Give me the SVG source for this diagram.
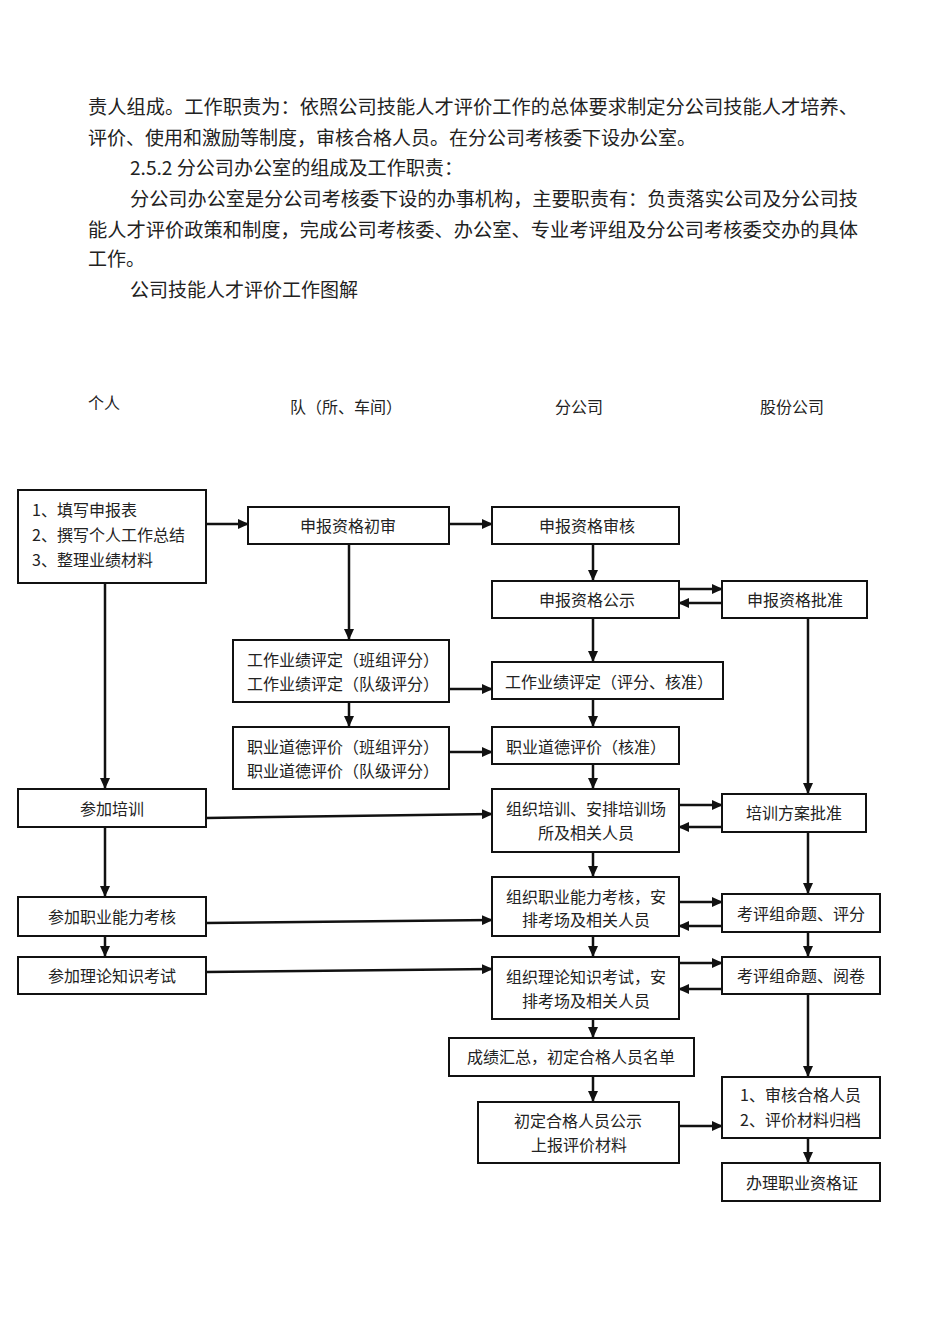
<svg xmlns="http://www.w3.org/2000/svg" width="950" height="1344" viewBox="0 0 950 1344">
<style>
.body{font-family:"Noto Sans CJK SC","Noto Sans",sans-serif;font-size:19px;fill:#222;}
.hd{font-family:"Noto Sans CJK SC","Noto Sans",sans-serif;font-size:16px;fill:#222;}
.t{font-family:"Noto Sans CJK SC","Noto Sans",sans-serif;font-size:16px;fill:#222;}
.c{text-anchor:middle;}
.box{fill:#fff;stroke:#111;stroke-width:2;}
.la{stroke:#111;stroke-width:2.5;fill:none;marker-end:url(#ah);}
</style>
<defs>
<marker id="ah" markerUnits="userSpaceOnUse" markerWidth="11" markerHeight="10" refX="10" refY="5" orient="auto">
<path d="M0,0 L11,5 L0,10 z" fill="#111"/>
</marker>
</defs>
<rect width="950" height="1344" fill="#fff"/>
<g id="bodytext">
<text class="body" x="88" y="114" textLength="770" lengthAdjust="spacingAndGlyphs">责人组成。工作职责为：依照公司技能人才评价工作的总体要求制定分公司技能人才培养、</text>
<text class="body" x="88" y="145" textLength="608" lengthAdjust="spacingAndGlyphs">评价、使用和激励等制度，审核合格人员。在分公司考核委下设办公室。</text>
<text class="body" x="130" y="175" textLength="333" lengthAdjust="spacingAndGlyphs">2.5.2 分公司办公室的组成及工作职责：</text>
<text class="body" x="130" y="206" textLength="728" lengthAdjust="spacingAndGlyphs">分公司办公室是分公司考核委下设的办事机构，主要职责有：负责落实公司及分公司技</text>
<text class="body" x="88" y="237" textLength="770" lengthAdjust="spacingAndGlyphs">能人才评价政策和制度，完成公司考核委、办公室、专业考评组及分公司考核委交办的具体</text>
<text class="body" x="88" y="266">工作。</text>
<text class="body" x="130" y="297">公司技能人才评价工作图解</text>
</g>
<g id="headers">
<text class="hd" x="88" y="409">个人</text>
<text class="hd" x="290" y="413">队（所、车间）</text>
<text class="hd" x="555" y="413">分公司</text>
<text class="hd" x="760" y="413">股份公司</text>
</g>
<g id="connectors">
<line class="la" x1="206" y1="524" x2="248" y2="524"/>
<line class="la" x1="449" y1="524" x2="492" y2="524"/>
<line class="la" x1="349" y1="544" x2="349" y2="639"/>
<line class="la" x1="349" y1="702" x2="349" y2="726"/>
<line class="la" x1="449" y1="689" x2="492" y2="689"/>
<line class="la" x1="449" y1="752" x2="492" y2="752"/>
<line class="la" x1="105" y1="583" x2="105" y2="788"/>
<line class="la" x1="593" y1="544" x2="593" y2="580"/>
<line class="la" x1="679" y1="589" x2="722" y2="589"/>
<line class="la" x1="722" y1="603" x2="679" y2="603"/>
<line class="la" x1="808" y1="619" x2="808" y2="793"/>
<line class="la" x1="593" y1="618" x2="593" y2="661"/>
<line class="la" x1="593" y1="699" x2="593" y2="726"/>
<line class="la" x1="593" y1="764" x2="593" y2="788"/>
<line class="la" x1="206" y1="818" x2="492" y2="814"/>
<line class="la" x1="679" y1="805" x2="722" y2="805"/>
<line class="la" x1="722" y1="827" x2="679" y2="827"/>
<line class="la" x1="105" y1="827" x2="105" y2="896"/>
<line class="la" x1="593" y1="852" x2="593" y2="876"/>
<line class="la" x1="808" y1="832" x2="808" y2="893"/>
<line class="la" x1="206" y1="923" x2="492" y2="920"/>
<line class="la" x1="679" y1="902" x2="722" y2="902"/>
<line class="la" x1="722" y1="926" x2="679" y2="926"/>
<line class="la" x1="105" y1="936" x2="105" y2="956"/>
<line class="la" x1="593" y1="936" x2="593" y2="956"/>
<line class="la" x1="808" y1="932" x2="808" y2="956"/>
<line class="la" x1="206" y1="972" x2="492" y2="969"/>
<line class="la" x1="679" y1="963" x2="722" y2="963"/>
<line class="la" x1="722" y1="989" x2="679" y2="989"/>
<line class="la" x1="593" y1="1019" x2="593" y2="1037"/>
<line class="la" x1="808" y1="994" x2="808" y2="1076"/>
<line class="la" x1="593" y1="1076" x2="593" y2="1101"/>
<line class="la" x1="679" y1="1126" x2="722" y2="1126"/>
<line class="la" x1="808" y1="1138" x2="808" y2="1162"/>
</g>
<g id="n_apply">
<rect class="box" x="18" y="490" width="188" height="93"/>
<text class="t" x="32" y="516">1、填写申报表</text>
<text class="t" x="32" y="541">2、撰写个人工作总结</text>
<text class="t" x="32" y="566">3、整理业绩材料</text>
</g>
<g id="n_train">
<rect class="box" x="18" y="789" width="188" height="38"/>
<text class="t c" x="112" y="815">参加培训</text>
</g>
<g id="n_skill">
<rect class="box" x="18" y="897" width="188" height="39"/>
<text class="t c" x="112" y="923">参加职业能力考核</text>
</g>
<g id="n_theory">
<rect class="box" x="18" y="957" width="188" height="37"/>
<text class="t c" x="112" y="982">参加理论知识考试</text>
</g>
<g id="n_prelim">
<rect class="box" x="248" y="507" width="201" height="37"/>
<text class="t c" x="348" y="532">申报资格初审</text>
</g>
<g id="n_perf_team">
<rect class="box" x="233" y="640" width="216" height="62"/>
<text class="t" x="247" y="666">工作业绩评定（班组评分）</text>
<text class="t" x="247" y="690">工作业绩评定（队级评分）</text>
</g>
<g id="n_ethic_team">
<rect class="box" x="233" y="727" width="216" height="62"/>
<text class="t" x="247" y="753">职业道德评价（班组评分）</text>
<text class="t" x="247" y="777">职业道德评价（队级评分）</text>
</g>
<g id="n_review">
<rect class="box" x="492" y="507" width="187" height="37"/>
<text class="t c" x="587" y="532">申报资格审核</text>
</g>
<g id="n_publish">
<rect class="box" x="492" y="581" width="187" height="37"/>
<text class="t c" x="587" y="606">申报资格公示</text>
</g>
<g id="n_approve">
<rect class="box" x="722" y="581" width="145" height="37"/>
<text class="t c" x="795" y="606">申报资格批准</text>
</g>
<g id="n_perf_branch">
<rect class="box" x="492" y="662" width="231" height="37"/>
<text class="t c" x="609" y="688">工作业绩评定（评分、核准）</text>
</g>
<g id="n_ethic_branch">
<rect class="box" x="492" y="727" width="187" height="37"/>
<text class="t c" x="586" y="753">职业道德评价（核准）</text>
</g>
<g id="n_org_train">
<rect class="box" x="492" y="789" width="187" height="63"/>
<text class="t c" x="586" y="815">组织培训、安排培训场</text>
<text class="t c" x="586" y="839">所及相关人员</text>
</g>
<g id="n_train_approve">
<rect class="box" x="722" y="794" width="144" height="38"/>
<text class="t c" x="794" y="819">培训方案批准</text>
</g>
<g id="n_org_skill">
<rect class="box" x="492" y="877" width="187" height="59"/>
<text class="t c" x="586" y="903">组织职业能力考核，安</text>
<text class="t c" x="586" y="926">排考场及相关人员</text>
</g>
<g id="n_grade_skill">
<rect class="box" x="722" y="894" width="158" height="38"/>
<text class="t c" x="801" y="920">考评组命题、评分</text>
</g>
<g id="n_org_theory">
<rect class="box" x="492" y="957" width="187" height="62"/>
<text class="t c" x="586" y="983">组织理论知识考试，安</text>
<text class="t c" x="586" y="1007">排考场及相关人员</text>
</g>
<g id="n_grade_theory">
<rect class="box" x="722" y="957" width="158" height="37"/>
<text class="t c" x="801" y="982">考评组命题、阅卷</text>
</g>
<g id="n_summary">
<rect class="box" x="449" y="1038" width="245" height="38"/>
<text class="t c" x="571" y="1063">成绩汇总，初定合格人员名单</text>
</g>
<g id="n_announce">
<rect class="box" x="478" y="1102" width="201" height="61"/>
<text class="t c" x="578" y="1127">初定合格人员公示</text>
<text class="t c" x="579" y="1151">上报评价材料</text>
</g>
<g id="n_audit">
<rect class="box" x="722" y="1077" width="158" height="61"/>
<text class="t" x="740" y="1101">1、审核合格人员</text>
<text class="t" x="740" y="1126">2、评价材料归档</text>
</g>
<g id="n_cert">
<rect class="box" x="722" y="1163" width="158" height="38"/>
<text class="t c" x="802" y="1189">办理职业资格证</text>
</g>
</svg>
